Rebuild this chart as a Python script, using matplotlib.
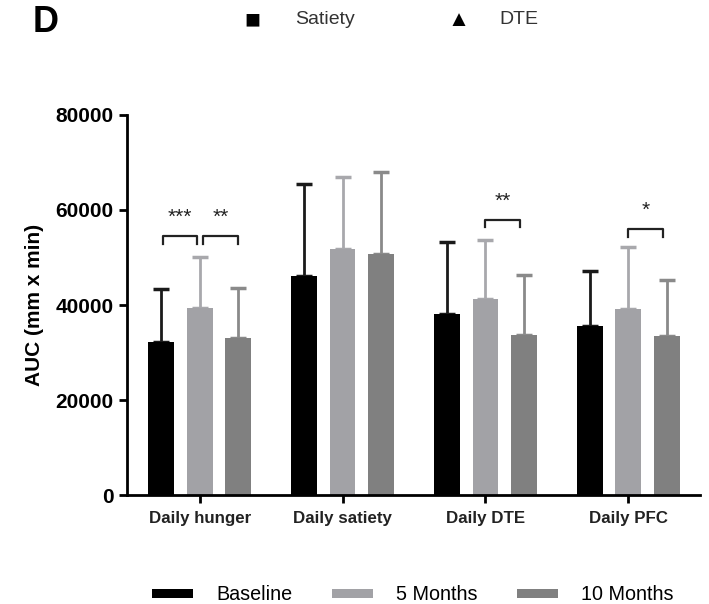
import numpy as np
import matplotlib.pyplot as plt

plt.rcParams['font.family'] = ['Liberation Sans', 'DejaVu Sans']

groups = ["Daily hunger", "Daily satiety", "Daily DTE", "Daily PFC"]
series = ["Baseline", "5 Months", "10 Months"]
colors = ["#000000", "#a2a2a6", "#808080"]
err_colors = ["#1a1a1a", "#a8a8ac", "#8a8a8a"]

means = [
    [32300, 46200, 38200, 35600],   # Baseline
    [39300, 51700, 41200, 39100],   # 5 Months
    [33000, 50700, 33800, 33500],   # 10 Months
]
upper = [
    [43300, 65500, 53300, 47200],
    [50200, 66900, 53700, 52300],
    [43500, 67900, 46300, 45300],
]

# significance brackets: (group, from bar, to bar, height, label)
sig = [
    (0, 0, 1, 54500, "***"),
    (0, 1, 2, 54500, "**"),
    (2, 1, 2, 57900, "**"),
    (3, 1, 2, 55900, "*"),
]

fig = plt.figure(figsize=(7.09, 6.04), dpi=100)
ax = fig.add_axes([0.179, 0.18, 0.808, 0.63])

x = np.arange(len(groups))
w = 0.18
off = 0.27
for i, s in enumerate(series):
    xs = x + (i - 1) * off
    err = np.array(upper[i]) - np.array(means[i])
    ax.bar(xs, means[i], w, color=colors[i], label=s, zorder=2)
    ax.errorbar(xs, means[i], yerr=[np.zeros_like(err), err], fmt='none',
                ecolor=err_colors[i], elinewidth=2, capsize=6, capthick=2.5, zorder=1)

for g, a, b, h, lab in sig:
    x0 = g + (a - 1) * off + (0.02 if a == 1 else 0.01)
    x1 = g + (b - 1) * off - (0.02 if b == 1 else 0.0)
    if g > 0:
        x0 = g + (a - 1) * off
        x1 = g + (b - 1) * off - 0.03
    ax.plot([x0, x0, x1, x1], [h - 1600, h, h, h - 1600], color="#222222", lw=1.6)
    ax.text((x0 + x1) / 2, h + 4000, lab, ha='center', va='center',
            fontsize=15, color="#222222")

ax.set_xlim(-0.51, 3.5)
ax.set_ylim(0, 80000)
ax.set_yticks([0, 20000, 40000, 60000, 80000])
ax.set_xticks(x)
ax.set_xticklabels(groups, fontweight='bold', fontsize=12.2, color="#222222")
for t in ax.get_yticklabels():
    t.set_fontweight('bold')
    t.set_fontsize(15)
ax.tick_params(axis='both', width=2, length=6)
ax.tick_params(axis='x', pad=5)
ax.spines['top'].set_visible(False)
ax.spines['right'].set_visible(False)
ax.spines['left'].set_linewidth(2)
ax.spines['bottom'].set_linewidth(2)
ax.set_ylabel("AUC (mm x min)", fontweight='bold', fontsize=15, labelpad=8)

fig.legend(loc='center left', bbox_to_anchor=(152 / 709, 1 - 595 / 604), ncol=3,
           frameon=False, fontsize=14.2, handlelength=2.1, handleheight=0.35,
           columnspacing=2.0, handletextpad=1.15, borderpad=0, borderaxespad=0)

# panel letter and marker key at the top
fig.text(33 / 709, 1 - 23 / 604, "D", fontsize=26, fontweight='bold', ha='left', va='center')
fig.text(252 / 709, 1 - 20 / 604, "\u25a0", fontsize=19, ha='center', va='center')
fig.text(295 / 709, 1 - 20 / 604, "Satiety", fontsize=14, ha='left', va='center',
         color="#333333")
fig.text(458 / 709, 1 - 20 / 604, "\u25b2", fontsize=16, ha='center', va='center')
fig.text(499 / 709, 1 - 20 / 604, "DTE", fontsize=14, ha='left', va='center',
         color="#333333")

fig.savefig("out.png", dpi=100)
